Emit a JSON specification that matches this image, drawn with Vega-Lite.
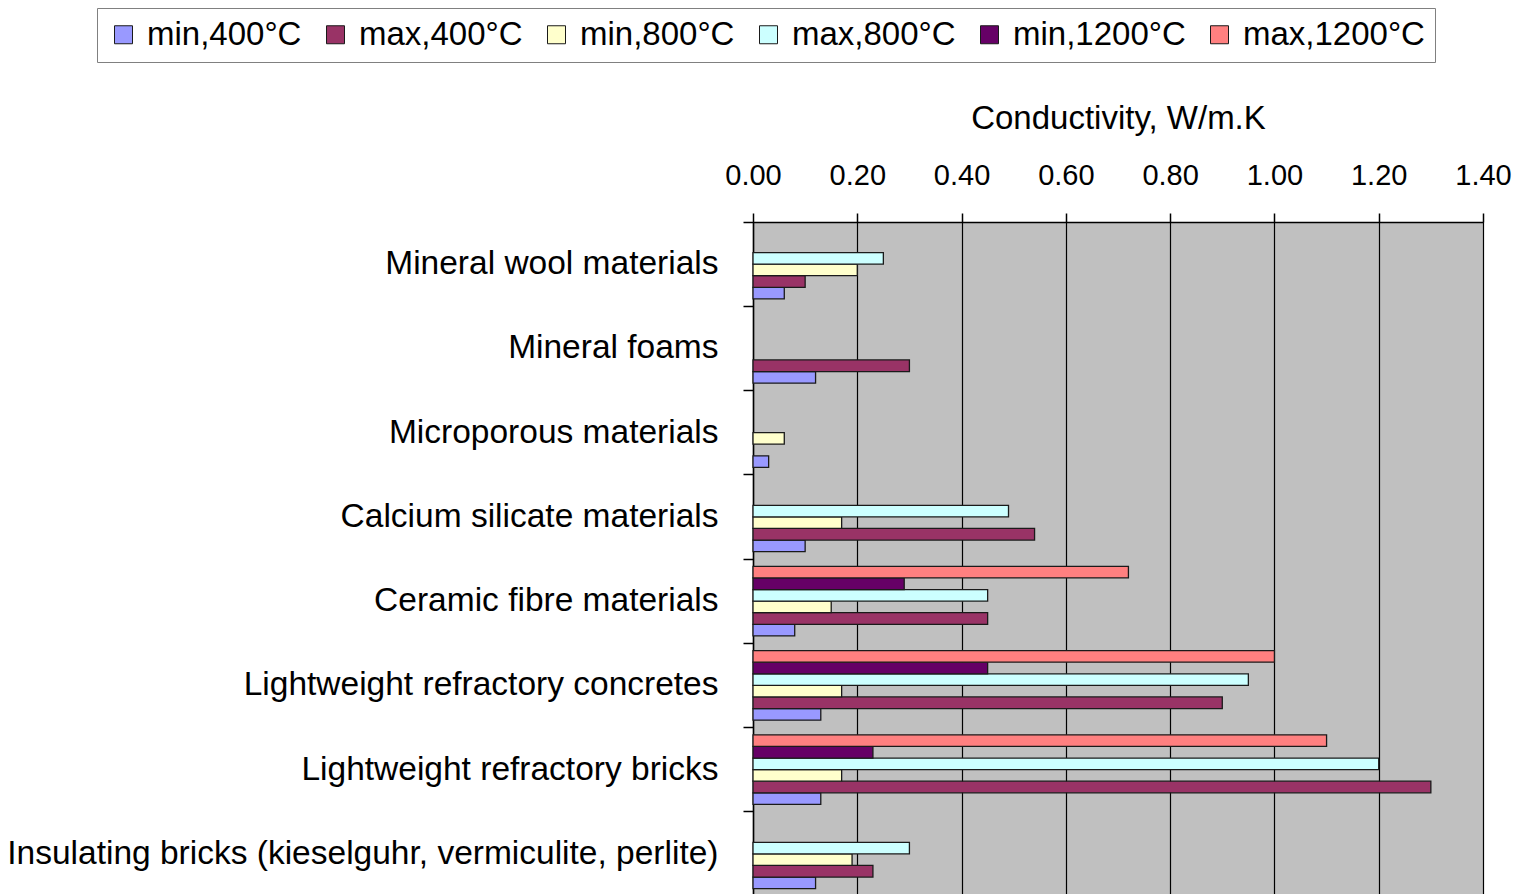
{
  "$schema": "https://vega.github.io/schema/vega-lite/v6.json",
  "autosize": "none",
  "width": 730,
  "height": 674,
  "padding": {"left": 753, "top": 222, "right": 56, "bottom": 0},
  "background": "white",
  "config": {
    "font": "Liberation Sans",
    "view": {"fill": "#C0C0C0", "stroke": "#000000", "strokeWidth": 1}
  },
  "data": {
    "values": [
      {"material": "Mineral wool materials", "series": "min,400°C", "value": 0.06},
      {"material": "Mineral wool materials", "series": "max,400°C", "value": 0.10},
      {"material": "Mineral wool materials", "series": "min,800°C", "value": 0.20},
      {"material": "Mineral wool materials", "series": "max,800°C", "value": 0.25},
      {"material": "Mineral foams", "series": "min,400°C", "value": 0.12},
      {"material": "Mineral foams", "series": "max,400°C", "value": 0.30},
      {"material": "Microporous materials", "series": "min,400°C", "value": 0.03},
      {"material": "Microporous materials", "series": "min,800°C", "value": 0.06},
      {"material": "Calcium silicate materials", "series": "min,400°C", "value": 0.10},
      {"material": "Calcium silicate materials", "series": "max,400°C", "value": 0.54},
      {"material": "Calcium silicate materials", "series": "min,800°C", "value": 0.17},
      {"material": "Calcium silicate materials", "series": "max,800°C", "value": 0.49},
      {"material": "Ceramic fibre materials", "series": "min,400°C", "value": 0.08},
      {"material": "Ceramic fibre materials", "series": "max,400°C", "value": 0.45},
      {"material": "Ceramic fibre materials", "series": "min,800°C", "value": 0.15},
      {"material": "Ceramic fibre materials", "series": "max,800°C", "value": 0.45},
      {"material": "Ceramic fibre materials", "series": "min,1200°C", "value": 0.29},
      {"material": "Ceramic fibre materials", "series": "max,1200°C", "value": 0.72},
      {"material": "Lightweight refractory concretes", "series": "min,400°C", "value": 0.13},
      {"material": "Lightweight refractory concretes", "series": "max,400°C", "value": 0.90},
      {"material": "Lightweight refractory concretes", "series": "min,800°C", "value": 0.17},
      {"material": "Lightweight refractory concretes", "series": "max,800°C", "value": 0.95},
      {"material": "Lightweight refractory concretes", "series": "min,1200°C", "value": 0.45},
      {"material": "Lightweight refractory concretes", "series": "max,1200°C", "value": 1.00},
      {"material": "Lightweight refractory bricks", "series": "min,400°C", "value": 0.13},
      {"material": "Lightweight refractory bricks", "series": "max,400°C", "value": 1.30},
      {"material": "Lightweight refractory bricks", "series": "min,800°C", "value": 0.17},
      {"material": "Lightweight refractory bricks", "series": "max,800°C", "value": 1.20},
      {"material": "Lightweight refractory bricks", "series": "min,1200°C", "value": 0.23},
      {"material": "Lightweight refractory bricks", "series": "max,1200°C", "value": 1.10},
      {"material": "Insulating bricks (kieselguhr, vermiculite, perlite)", "series": "min,400°C", "value": 0.12},
      {"material": "Insulating bricks (kieselguhr, vermiculite, perlite)", "series": "max,400°C", "value": 0.23},
      {"material": "Insulating bricks (kieselguhr, vermiculite, perlite)", "series": "min,800°C", "value": 0.19},
      {"material": "Insulating bricks (kieselguhr, vermiculite, perlite)", "series": "max,800°C", "value": 0.30}
    ]
  },
  "mark": {"type": "bar", "stroke": "#1a1a1a", "strokeWidth": 1.3},
  "encoding": {
    "y": {
      "field": "material",
      "type": "nominal",
      "sort": null,
      "scale": {"paddingInner": 0.175, "paddingOuter": 0.0875},
      "axis": {
        "title": null,
        "bandPosition": -0.106,
        "domainColor": "#000000",
        "domainWidth": 1.5,
        "tickColor": "#000000",
        "tickSize": 10,
        "tickWidth": 1.5,
        "labelFontSize": 33.5,
        "labelColor": "#000000",
        "labelPadding": 25,
        "labelLimit": 0,
        "grid": false
      }
    },
    "yOffset": {
      "field": "series",
      "type": "nominal",
      "scale": {
        "domain": ["max,1200°C", "min,1200°C", "max,800°C", "min,800°C", "max,400°C", "min,400°C"],
        "paddingInner": 0,
        "paddingOuter": 0
      }
    },
    "x": {
      "field": "value",
      "type": "quantitative",
      "scale": {"domain": [0, 1.4], "nice": false},
      "axis": {
        "orient": "top",
        "title": "Conductivity, W/m.K",
        "titleFontSize": 33,
        "titleFontWeight": "normal",
        "titleColor": "#000000",
        "titlePadding": 26,
        "values": [0, 0.2, 0.4, 0.6, 0.8, 1.0, 1.2, 1.4],
        "format": ".2f",
        "labelFontSize": 29,
        "labelFlush": false,
        "labelOverlap": false,
        "labelColor": "#000000",
        "labelPadding": 23,
        "domainColor": "#000000",
        "domainWidth": 1.5,
        "tickColor": "#000000",
        "tickSize": 9,
        "tickWidth": 1.5,
        "grid": true,
        "gridColor": "#000000",
        "gridWidth": 1.2,
        "gridOpacity": 1
      }
    },
    "color": {
      "field": "series",
      "type": "nominal",
      "scale": {
        "domain": ["min,400°C", "max,400°C", "min,800°C", "max,800°C", "min,1200°C", "max,1200°C"],
        "range": ["#9999FF", "#993366", "#FFFFCC", "#CCFFFF", "#660066", "#FF8080"]
      },
      "legend": {
        "title": null,
        "orient": "none",
        "direction": "horizontal",
        "legendX": -656,
        "legendY": -214,
        "padding": 10,
        "fillColor": "#FFFFFF",
        "strokeColor": "#808080",
        "symbolType": "square",
        "symbolSize": 324,
        "symbolStrokeColor": "#1a1a1a",
        "symbolStrokeWidth": 1,
        "symbolOpacity": 1,
        "labelFontSize": 33,
        "labelColor": "#000000",
        "labelOffset": 7,
        "labelLimit": 0,
        "columnPadding": 17
      }
    }
  }
}
